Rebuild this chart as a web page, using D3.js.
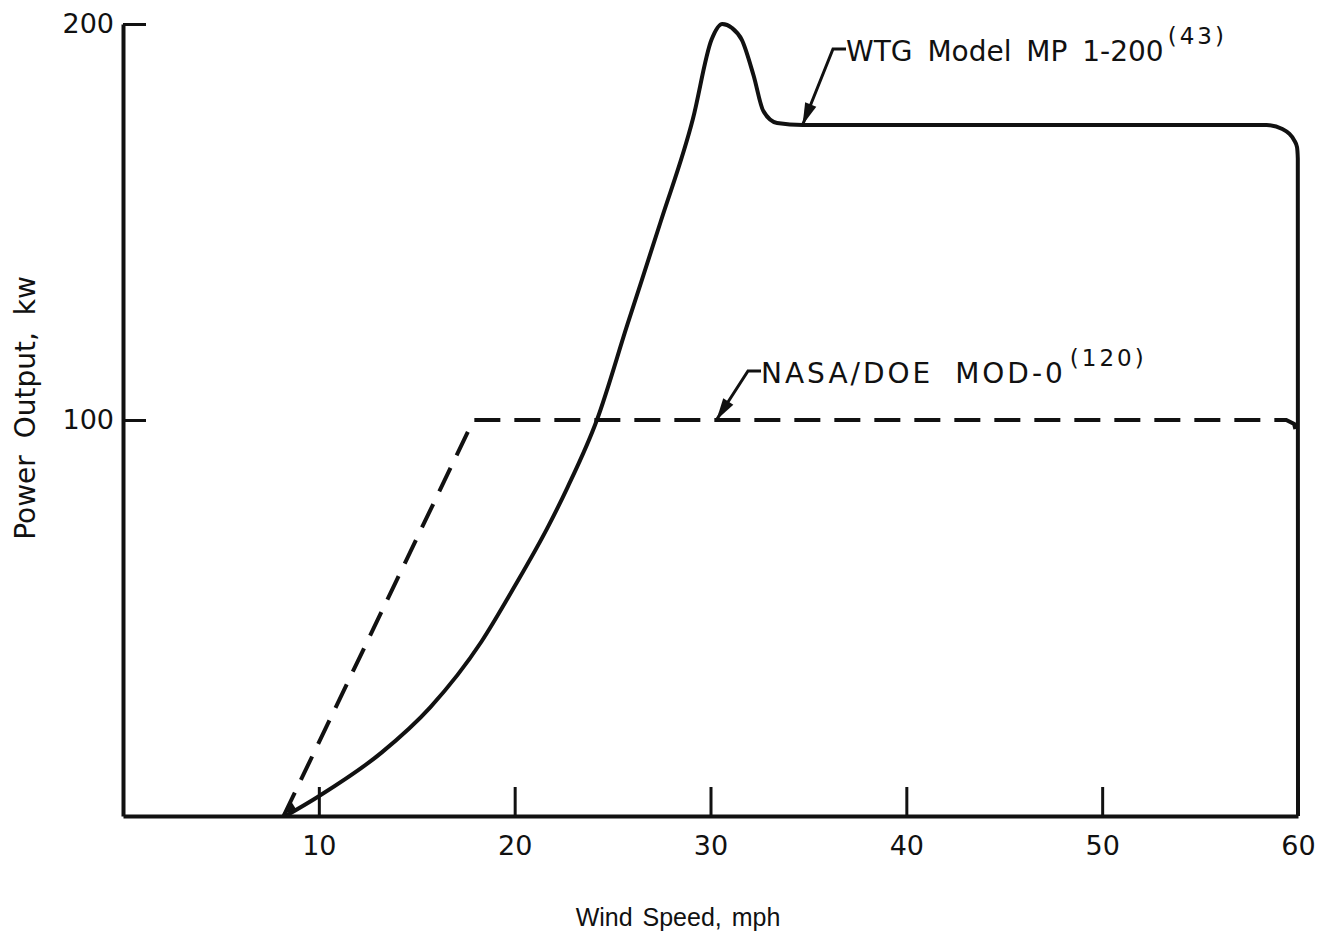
<!DOCTYPE html>
<html>
<head>
<meta charset="utf-8">
<script src="https://cdn.jsdelivr.net/npm/d3@7"></script>
<style>
  body { margin: 0; background: #fff; }
  svg { display: block; }
  text { fill: #111; font-family: "DejaVu Sans", sans-serif; }
</style>
</head>
<body>
<div id="chart"></div>
<script>
// Power curves
var wtgWind  = [8.3, 10, 13.2, 15.7, 18.3, 20, 21.7, 22.7, 24.2, 25.75, 27.45, 29.1, 30.05, 30.6, 31.1, 31.6, 32.2, 32.7, 33.4, 34.7, 45, 58.4, 59.2, 59.55, 59.8, 59.95, 59.99, 60];
var wtgPower = [0, 5, 16, 27.5, 44, 58, 73, 83, 100, 124, 150, 176, 196, 200, 199, 196, 187, 178, 175, 174.5, 174.5, 174.5, 173.5, 172.3, 170.7, 168.9, 166, 0];

var nasaWind  = [8.2, 17.9, 59.4, 59.8, 60];
var nasaPower = [0, 100, 100, 99, 95];

var xTicks = [10, 20, 30, 40, 50, 60];
var yTicks = [100, 200];

var WIDTH = 1318, HEIGHT = 938;

var svg = d3.select("#chart").append("svg")
    .attr("width", WIDTH)
    .attr("height", HEIGHT);

var x = d3.scaleLinear().domain([0, 60]).range([123, 1298]);
var y = d3.scaleLinear().domain([0, 200]).range([816, 24]);

// axes
var xAxis = svg.append("g")
    .attr("transform", "translate(0," + y(0) + ")")
    .call(d3.axisBottom(x).tickValues(xTicks).tickSizeInner(-29).tickSizeOuter(0).tickPadding(20));
var yAxis = svg.append("g")
    .attr("transform", "translate(" + x(0) + ",0)")
    .call(d3.axisLeft(y).tickValues(yTicks).tickSizeInner(-23).tickSizeOuter(0).tickPadding(9));

[xAxis, yAxis].forEach(function (g) {
    g.select(".domain").attr("stroke", "#111").attr("stroke-width", 4);
    g.selectAll(".tick line").attr("stroke", "#111").attr("stroke-width", 3);
    g.selectAll(".tick text")
        .attr("fill", "#111")
        .style("font-family", "DejaVu Sans")
        .style("font-size", "27px");
});

// curves
var wtg = wtgWind.map(function (d, i) { return [d, wtgPower[i]]; });
var nasa = nasaWind.map(function (d, i) { return [d, nasaPower[i]]; });

var smooth = d3.line()
    .x(function (d) { return x(d[0]); })
    .y(function (d) { return y(d[1]); })
    .curve(d3.curveMonotoneX);
var straight = d3.line()
    .x(function (d) { return x(d[0]); })
    .y(function (d) { return y(d[1]); });

svg.append("path")
    .attr("d", smooth(wtg))
    .attr("fill", "none")
    .attr("stroke", "#111")
    .attr("stroke-width", 4)
    .attr("stroke-linejoin", "round");

svg.append("path")
    .attr("d", straight(nasa))
    .attr("fill", "none")
    .attr("stroke", "#111")
    .attr("stroke-width", 4)
    .attr("stroke-dasharray", "26,14");

// small arrow where both curves meet the axis
svg.append("path")
    .attr("d", "M" + (x(8.3) - 3) + "," + (y(0) - 2) + " l14,-4 l-5,-8 z")
    .attr("fill", "#111");

// annotations with leader arrows
function arrowHead(tipX, tipY, fromX, fromY) {
    var a = Math.atan2(tipY - fromY, tipX - fromX);
    var len = 22, w = 6;
    var bx = tipX - len * Math.cos(a), by = tipY - len * Math.sin(a);
    var px = -Math.sin(a) * w, py = Math.cos(a) * w;
    svg.append("path")
        .attr("d", "M" + tipX + "," + tipY + " L" + (bx + px) + "," + (by + py) + " L" + (bx - px) + "," + (by - py) + " Z")
        .attr("fill", "#111");
}

function label(tipWind, tipPower, startX, startY, text, sup, spacing, wordGap) {
    var tx = x(tipWind), ty = y(tipPower);
    svg.append("path")
        .attr("d", "M" + (startX + 13) + "," + startY + " L" + startX + "," + startY + " L" + tx + "," + ty)
        .attr("fill", "none")
        .attr("stroke", "#111")
        .attr("stroke-width", 3);
    arrowHead(tx, ty, startX, startY);
    var t = svg.append("text")
        .attr("x", startX + 13)
        .attr("y", startY + 12)
        .style("font-size", "28px")
        .style("letter-spacing", spacing + "px")
        .style("word-spacing", wordGap + "px")
        .text(text);
    t.append("tspan")
        .attr("dx", 4)
        .attr("dy", -17)
        .style("font-size", "23px")
        .style("letter-spacing", "3px")
        .text(sup);
}

label(34.7, 174.5, 833, 49, "WTG Model MP 1-200", "(43)", 0, 6);
label(30.3, 100, 748, 371, "NASA/DOE  MOD-0", "(120)", 3, 10);

// axis titles
svg.append("text")
    .attr("x", 678)
    .attr("y", 926)
    .attr("text-anchor", "middle")
    .style("font-family", "Liberation Sans, sans-serif")
    .style("font-size", "25px")
    .style("word-spacing", "3px")
    .text("Wind Speed, mph");

svg.append("text")
    .attr("transform", "translate(35,408) rotate(-90)")
    .attr("text-anchor", "middle")
    .style("font-size", "28px")
    .style("word-spacing", "8px")
    .text("Power Output, kw");
</script>
</body>
</html>
